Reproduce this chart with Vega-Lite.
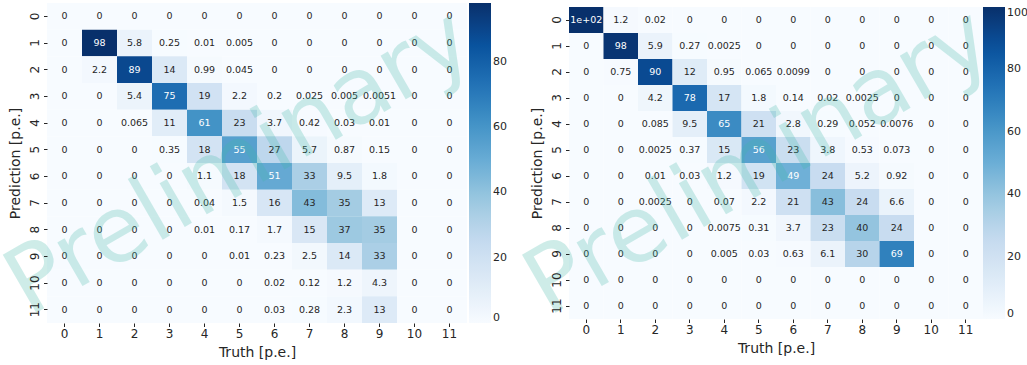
{
  "$schema": "https://vega.github.io/schema/vega-lite/v6.json",
  "autosize": {"type": "none"},
  "padding": {"left": 47, "top": 3, "right": 980, "bottom": 362},
  "config": {
    "font": "DejaVu Sans",
    "view": {"stroke": null},
    "axis": {"domain": false, "grid": false, "labelFontSize": 12, "titleFontSize": 14, "titleFontWeight": "normal", "labelColor": "#262626", "titleColor": "#262626", "tickColor": "#262626", "tickSize": 3.5, "labelPadding": 2},
    "legend": {"padding": 0, "gradientThickness": 22, "gradientStrokeWidth": 0, "labelFontSize": 11, "labelColor": "#262626", "labelOffset": 6}
  },
  "bounds": "flush",
  "center": true,
  "spacing": 102,
  "datasets": {
    "wm": [{"col": 5, "row": 6, "label": "Preliminary"}],
    "left": [
      {"p":0,"t":0,"v":0},{"p":0,"t":1,"v":0},{"p":0,"t":2,"v":0},{"p":0,"t":3,"v":0},{"p":0,"t":4,"v":0},{"p":0,"t":5,"v":0},{"p":0,"t":6,"v":0},{"p":0,"t":7,"v":0},{"p":0,"t":8,"v":0},{"p":0,"t":9,"v":0},{"p":0,"t":10,"v":0},{"p":0,"t":11,"v":0},
      {"p":1,"t":0,"v":0},{"p":1,"t":1,"v":98},{"p":1,"t":2,"v":5.8},{"p":1,"t":3,"v":0.25},{"p":1,"t":4,"v":0.01},{"p":1,"t":5,"v":0.005},{"p":1,"t":6,"v":0},{"p":1,"t":7,"v":0},{"p":1,"t":8,"v":0},{"p":1,"t":9,"v":0},{"p":1,"t":10,"v":0},{"p":1,"t":11,"v":0},
      {"p":2,"t":0,"v":0},{"p":2,"t":1,"v":2.2},{"p":2,"t":2,"v":89},{"p":2,"t":3,"v":14},{"p":2,"t":4,"v":0.99},{"p":2,"t":5,"v":0.045},{"p":2,"t":6,"v":0},{"p":2,"t":7,"v":0},{"p":2,"t":8,"v":0},{"p":2,"t":9,"v":0},{"p":2,"t":10,"v":0},{"p":2,"t":11,"v":0},
      {"p":3,"t":0,"v":0},{"p":3,"t":1,"v":0},{"p":3,"t":2,"v":5.4},{"p":3,"t":3,"v":75},{"p":3,"t":4,"v":19},{"p":3,"t":5,"v":2.2},{"p":3,"t":6,"v":0.2},{"p":3,"t":7,"v":0.025},{"p":3,"t":8,"v":0.005},{"p":3,"t":9,"v":0.0051},{"p":3,"t":10,"v":0},{"p":3,"t":11,"v":0},
      {"p":4,"t":0,"v":0},{"p":4,"t":1,"v":0},{"p":4,"t":2,"v":0.065},{"p":4,"t":3,"v":11},{"p":4,"t":4,"v":61},{"p":4,"t":5,"v":23},{"p":4,"t":6,"v":3.7},{"p":4,"t":7,"v":0.42},{"p":4,"t":8,"v":0.03},{"p":4,"t":9,"v":0.01},{"p":4,"t":10,"v":0},{"p":4,"t":11,"v":0},
      {"p":5,"t":0,"v":0},{"p":5,"t":1,"v":0},{"p":5,"t":2,"v":0},{"p":5,"t":3,"v":0.35},{"p":5,"t":4,"v":18},{"p":5,"t":5,"v":55},{"p":5,"t":6,"v":27},{"p":5,"t":7,"v":5.7},{"p":5,"t":8,"v":0.87},{"p":5,"t":9,"v":0.15},{"p":5,"t":10,"v":0},{"p":5,"t":11,"v":0},
      {"p":6,"t":0,"v":0},{"p":6,"t":1,"v":0},{"p":6,"t":2,"v":0},{"p":6,"t":3,"v":0},{"p":6,"t":4,"v":1.1},{"p":6,"t":5,"v":18},{"p":6,"t":6,"v":51},{"p":6,"t":7,"v":33},{"p":6,"t":8,"v":9.5},{"p":6,"t":9,"v":1.8},{"p":6,"t":10,"v":0},{"p":6,"t":11,"v":0},
      {"p":7,"t":0,"v":0},{"p":7,"t":1,"v":0},{"p":7,"t":2,"v":0},{"p":7,"t":3,"v":0},{"p":7,"t":4,"v":0.04},{"p":7,"t":5,"v":1.5},{"p":7,"t":6,"v":16},{"p":7,"t":7,"v":43},{"p":7,"t":8,"v":35},{"p":7,"t":9,"v":13},{"p":7,"t":10,"v":0},{"p":7,"t":11,"v":0},
      {"p":8,"t":0,"v":0},{"p":8,"t":1,"v":0},{"p":8,"t":2,"v":0},{"p":8,"t":3,"v":0},{"p":8,"t":4,"v":0.01},{"p":8,"t":5,"v":0.17},{"p":8,"t":6,"v":1.7},{"p":8,"t":7,"v":15},{"p":8,"t":8,"v":37},{"p":8,"t":9,"v":35},{"p":8,"t":10,"v":0},{"p":8,"t":11,"v":0},
      {"p":9,"t":0,"v":0},{"p":9,"t":1,"v":0},{"p":9,"t":2,"v":0},{"p":9,"t":3,"v":0},{"p":9,"t":4,"v":0},{"p":9,"t":5,"v":0.01},{"p":9,"t":6,"v":0.23},{"p":9,"t":7,"v":2.5},{"p":9,"t":8,"v":14},{"p":9,"t":9,"v":33},{"p":9,"t":10,"v":0},{"p":9,"t":11,"v":0},
      {"p":10,"t":0,"v":0},{"p":10,"t":1,"v":0},{"p":10,"t":2,"v":0},{"p":10,"t":3,"v":0},{"p":10,"t":4,"v":0},{"p":10,"t":5,"v":0},{"p":10,"t":6,"v":0.02},{"p":10,"t":7,"v":0.12},{"p":10,"t":8,"v":1.2},{"p":10,"t":9,"v":4.3},{"p":10,"t":10,"v":0},{"p":10,"t":11,"v":0},
      {"p":11,"t":0,"v":0},{"p":11,"t":1,"v":0},{"p":11,"t":2,"v":0},{"p":11,"t":3,"v":0},{"p":11,"t":4,"v":0},{"p":11,"t":5,"v":0},{"p":11,"t":6,"v":0.03},{"p":11,"t":7,"v":0.28},{"p":11,"t":8,"v":2.3},{"p":11,"t":9,"v":13},{"p":11,"t":10,"v":0},{"p":11,"t":11,"v":0}
    ],
    "right": [
      {"p":0,"t":0,"v":100},{"p":0,"t":1,"v":1.2},{"p":0,"t":2,"v":0.02},{"p":0,"t":3,"v":0},{"p":0,"t":4,"v":0},{"p":0,"t":5,"v":0},{"p":0,"t":6,"v":0},{"p":0,"t":7,"v":0},{"p":0,"t":8,"v":0},{"p":0,"t":9,"v":0},{"p":0,"t":10,"v":0},{"p":0,"t":11,"v":0},
      {"p":1,"t":0,"v":0},{"p":1,"t":1,"v":98},{"p":1,"t":2,"v":5.9},{"p":1,"t":3,"v":0.27},{"p":1,"t":4,"v":0.0025},{"p":1,"t":5,"v":0},{"p":1,"t":6,"v":0},{"p":1,"t":7,"v":0},{"p":1,"t":8,"v":0},{"p":1,"t":9,"v":0},{"p":1,"t":10,"v":0},{"p":1,"t":11,"v":0},
      {"p":2,"t":0,"v":0},{"p":2,"t":1,"v":0.75},{"p":2,"t":2,"v":90},{"p":2,"t":3,"v":12},{"p":2,"t":4,"v":0.95},{"p":2,"t":5,"v":0.065},{"p":2,"t":6,"v":0.0099},{"p":2,"t":7,"v":0},{"p":2,"t":8,"v":0},{"p":2,"t":9,"v":0},{"p":2,"t":10,"v":0},{"p":2,"t":11,"v":0},
      {"p":3,"t":0,"v":0},{"p":3,"t":1,"v":0},{"p":3,"t":2,"v":4.2},{"p":3,"t":3,"v":78},{"p":3,"t":4,"v":17},{"p":3,"t":5,"v":1.8},{"p":3,"t":6,"v":0.14},{"p":3,"t":7,"v":0.02},{"p":3,"t":8,"v":0.0025},{"p":3,"t":9,"v":0},{"p":3,"t":10,"v":0},{"p":3,"t":11,"v":0},
      {"p":4,"t":0,"v":0},{"p":4,"t":1,"v":0},{"p":4,"t":2,"v":0.085},{"p":4,"t":3,"v":9.5},{"p":4,"t":4,"v":65},{"p":4,"t":5,"v":21},{"p":4,"t":6,"v":2.8},{"p":4,"t":7,"v":0.29},{"p":4,"t":8,"v":0.052},{"p":4,"t":9,"v":0.0076},{"p":4,"t":10,"v":0},{"p":4,"t":11,"v":0},
      {"p":5,"t":0,"v":0},{"p":5,"t":1,"v":0},{"p":5,"t":2,"v":0.0025},{"p":5,"t":3,"v":0.37},{"p":5,"t":4,"v":15},{"p":5,"t":5,"v":56},{"p":5,"t":6,"v":23},{"p":5,"t":7,"v":3.8},{"p":5,"t":8,"v":0.53},{"p":5,"t":9,"v":0.073},{"p":5,"t":10,"v":0},{"p":5,"t":11,"v":0},
      {"p":6,"t":0,"v":0},{"p":6,"t":1,"v":0},{"p":6,"t":2,"v":0.01},{"p":6,"t":3,"v":0.03},{"p":6,"t":4,"v":1.2},{"p":6,"t":5,"v":19},{"p":6,"t":6,"v":49},{"p":6,"t":7,"v":24},{"p":6,"t":8,"v":5.2},{"p":6,"t":9,"v":0.92},{"p":6,"t":10,"v":0},{"p":6,"t":11,"v":0},
      {"p":7,"t":0,"v":0},{"p":7,"t":1,"v":0},{"p":7,"t":2,"v":0.0025},{"p":7,"t":3,"v":0},{"p":7,"t":4,"v":0.07},{"p":7,"t":5,"v":2.2},{"p":7,"t":6,"v":21},{"p":7,"t":7,"v":43},{"p":7,"t":8,"v":24},{"p":7,"t":9,"v":6.6},{"p":7,"t":10,"v":0},{"p":7,"t":11,"v":0},
      {"p":8,"t":0,"v":0},{"p":8,"t":1,"v":0},{"p":8,"t":2,"v":0},{"p":8,"t":3,"v":0},{"p":8,"t":4,"v":0.0075},{"p":8,"t":5,"v":0.31},{"p":8,"t":6,"v":3.7},{"p":8,"t":7,"v":23},{"p":8,"t":8,"v":40},{"p":8,"t":9,"v":24},{"p":8,"t":10,"v":0},{"p":8,"t":11,"v":0},
      {"p":9,"t":0,"v":0},{"p":9,"t":1,"v":0},{"p":9,"t":2,"v":0},{"p":9,"t":3,"v":0},{"p":9,"t":4,"v":0.005},{"p":9,"t":5,"v":0.03},{"p":9,"t":6,"v":0.63},{"p":9,"t":7,"v":6.1},{"p":9,"t":8,"v":30},{"p":9,"t":9,"v":69},{"p":9,"t":10,"v":0},{"p":9,"t":11,"v":0},
      {"p":10,"t":0,"v":0},{"p":10,"t":1,"v":0},{"p":10,"t":2,"v":0},{"p":10,"t":3,"v":0},{"p":10,"t":4,"v":0},{"p":10,"t":5,"v":0},{"p":10,"t":6,"v":0},{"p":10,"t":7,"v":0},{"p":10,"t":8,"v":0},{"p":10,"t":9,"v":0},{"p":10,"t":10,"v":0},{"p":10,"t":11,"v":0},
      {"p":11,"t":0,"v":0},{"p":11,"t":1,"v":0},{"p":11,"t":2,"v":0},{"p":11,"t":3,"v":0},{"p":11,"t":4,"v":0},{"p":11,"t":5,"v":0},{"p":11,"t":6,"v":0},{"p":11,"t":7,"v":0},{"p":11,"t":8,"v":0},{"p":11,"t":9,"v":0},{"p":11,"t":10,"v":0},{"p":11,"t":11,"v":0}
    ]
  },
  "resolve": {"scale": {"color": "independent"}},
  "hconcat": [
    {
      "width": 420, "height": 320,
      "data": {"name": "left"},
      "encoding": {
        "x": {"field": "t", "type": "ordinal", "scale": {"paddingInner": 0, "paddingOuter": 0}, "axis": {"title": "Truth [p.e.]", "labelAngle": 0, "titlePadding": 6}},
        "y": {"field": "p", "type": "ordinal", "scale": {"paddingInner": 0, "paddingOuter": 0}, "axis": {"title": "Prediction [p.e.]", "labelAngle": -90, "labelAlign": "center", "labelBaseline": "bottom", "titlePadding": 6}}
      },
      "layer": [
        {"mark": {"type": "rect"}, "encoding": {"color": {"field": "v", "type": "quantitative", "scale": {"domain": [0, 98], "range": ["#f7fbff","#deebf7","#c6dbef","#9ecae1","#6baed6","#4292c6","#2171b5","#08519c","#08306b"]}, "legend": {"title": null, "gradientLength": 320, "values": [0, 20, 40, 60, 80], "offset": 2}}}},
        {"mark": {"type": "text", "fontSize": 9.5}, "encoding": {"text": {"field": "v", "type": "quantitative", "format": "~g"}, "color": {"condition": {"test": "datum.v > 46", "value": "white"}, "value": "#262626"}}},
        {"data": {"name": "wm"}, "mark": {"type": "text", "fontSize": 92, "angle": -30, "color": "#3fb8a8", "opacity": 0.25, "align": "center", "baseline": "middle"},
         "encoding": {"x": {"field": "col", "type": "ordinal", "axis": {"title": "Truth [p.e.]", "labelAngle": 0, "titlePadding": 6}}, "y": {"field": "row", "type": "ordinal", "bandPosition": 0, "axis": {"title": "Prediction [p.e.]", "labelAngle": -90, "labelAlign": "center", "labelBaseline": "bottom", "titlePadding": 6}}, "text": {"field": "label"}}}
      ]
    },
    {
      "width": 414, "height": 312,
      "data": {"name": "right"},
      "encoding": {
        "x": {"field": "t", "type": "ordinal", "scale": {"paddingInner": 0, "paddingOuter": 0}, "axis": {"title": "Truth [p.e.]", "labelAngle": 0, "titlePadding": 6}},
        "y": {"field": "p", "type": "ordinal", "scale": {"paddingInner": 0, "paddingOuter": 0}, "axis": {"title": "Prediction [p.e.]", "labelAngle": -90, "labelAlign": "center", "labelBaseline": "bottom", "titlePadding": 6}}
      },
      "layer": [
        {"mark": {"type": "rect"}, "encoding": {"color": {"field": "v", "type": "quantitative", "scale": {"domain": [0, 100], "range": ["#f7fbff","#deebf7","#c6dbef","#9ecae1","#6baed6","#4292c6","#2171b5","#08519c","#08306b"]}, "legend": {"title": null, "gradientLength": 312, "values": [0, 20, 40, 60, 80, 100], "offset": 0}}}},
        {"mark": {"type": "text", "fontSize": 9.5}, "encoding": {"text": {"condition": {"test": "datum.v >= 99.5", "value": "1e+02"}, "field": "v", "type": "quantitative", "format": "~g"}, "color": {"condition": {"test": "datum.v > 46", "value": "white"}, "value": "#262626"}}},
        {"data": {"name": "wm"}, "mark": {"type": "text", "fontSize": 92, "angle": -30, "color": "#3fb8a8", "opacity": 0.25, "align": "center", "baseline": "middle"},
         "encoding": {"x": {"field": "col", "type": "ordinal", "axis": {"title": "Truth [p.e.]", "labelAngle": 0, "titlePadding": 6}}, "y": {"field": "row", "type": "ordinal", "bandPosition": 0, "axis": {"title": "Prediction [p.e.]", "labelAngle": -90, "labelAlign": "center", "labelBaseline": "bottom", "titlePadding": 6}}, "text": {"field": "label"}}}
      ]
    }
  ]
}
